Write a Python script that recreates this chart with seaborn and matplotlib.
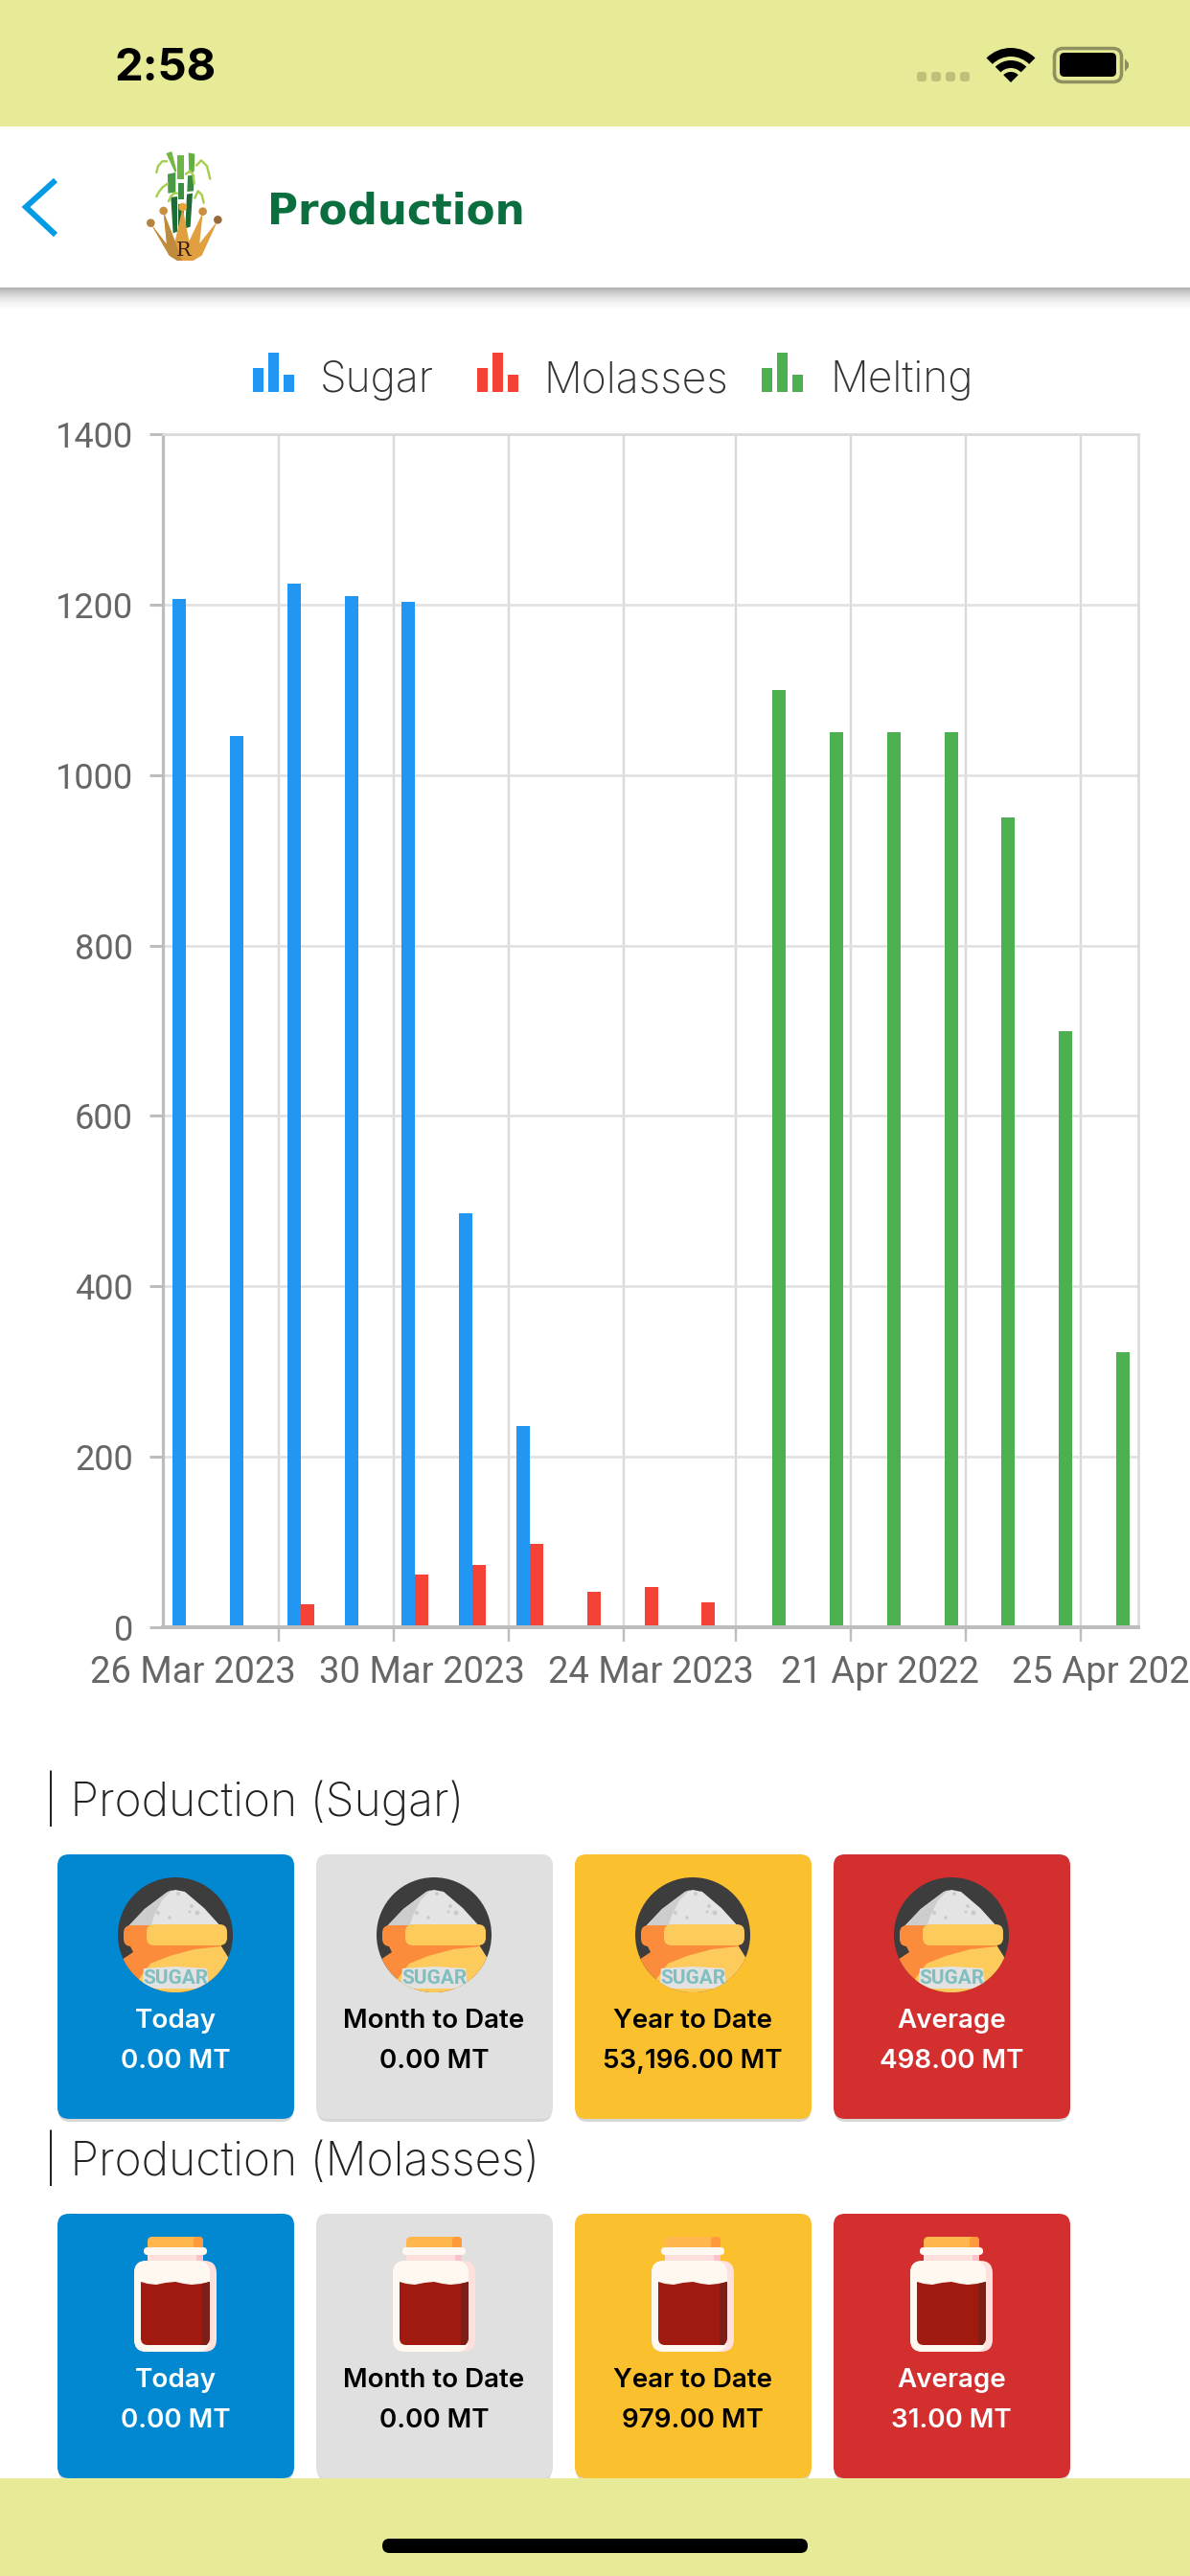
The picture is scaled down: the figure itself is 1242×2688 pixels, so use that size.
import matplotlib
matplotlib.use("Agg")
import matplotlib.pyplot as plt
from matplotlib.patches import FancyBboxPatch, Rectangle, Circle, Polygon, Wedge
from matplotlib.transforms import ScaledTranslation
import pandas as pd
import seaborn as sns

# ---- data -------------------------------------------------------------
days = ["26 Mar 2023", "27 Mar 2023", "28 Mar 2023", "29 Mar 2023", "30 Mar 2023",
        "31 Mar 2023", "01 Apr 2023", "23 Mar 2023", "24 Mar 2023", "25 Mar 2023",
        "19 Apr 2022", "20 Apr 2022", "21 Apr 2022", "22 Apr 2022", "23 Apr 2022",
        "24 Apr 2022", "25 Apr 2022"]
sugar = [1207, 1046, 1225, 1210, 1203, 486, 236, None, None, None,
         None, None, None, None, None, None, None]
molasses = [None, None, 27, None, 62, 73, 98, 42, 47, 29,
            None, None, None, None, None, None, None]
melting = [None, None, None, None, None, None, None, None, None, None,
           1100, 1050, 1050, 1050, 950, 700, 323]
series_names = ["Sugar", "Molasses", "Melting"]
series_colors = ["#2196F3", "#F44336", "#4CAF50"]
y_ticks = [0, 200, 400, 600, 800, 1000, 1200, 1400]
labelled_days = ["26 Mar 2023", "30 Mar 2023", "24 Mar 2023", "21 Apr 2022", "25 Apr 2022"]
x_tick_labels = ["26 Mar 2023", "30 Mar 2023", "24 Mar 2023", "21 Apr 2022", "25 Apr 202"]
grid_slots = [1.5, 3.51, 5.52, 7.52, 9.48, 11.49, 13.49, 15.5]

card_titles = ["Today", "Month to Date", "Year to Date", "Average"]
sugar_totals = ["0.00 MT", "0.00 MT", "53,196.00 MT", "498.00 MT"]
molasses_totals = ["0.00 MT", "0.00 MT", "979.00 MT", "31.00 MT"]
card_colors = ["#0288D1", "#E0E0E0", "#FBC02D", "#D32F2F"]
card_inks = ["white", "black", "black", "white"]

# ---- figure -----------------------------------------------------------
sns.set_theme(style="white", rc={"font.family": "Inter"})
W, H = 1242, 2688
PX = 0.72  # points per pixel at 100 dpi
fig = plt.figure(figsize=(W / 100, H / 100), dpi=100, facecolor="white")

ui = fig.add_axes([0, 0, 1, 1], zorder=1)
ui.set_xlim(0, W)
ui.set_ylim(H, 0)
ui.axis("off")

BAND = "#E7EB97"
ui.add_patch(Rectangle((0, 0), W, 132, fc=BAND, ec="none"))
for i in range(26):
    ui.add_patch(Rectangle((0, 300 + i), W, 1, fc="black", ec="none",
                           alpha=0.30 * (1 - i / 26) ** 2))

# status bar
ui.text(120, 72, "2:58", fontsize=34, fontweight="bold", color="black",
        family="Inter", va="center", ha="left")
for x0 in (957, 972, 987, 1002):
    ui.add_patch(FancyBboxPatch((x0, 75), 10, 10, boxstyle="round,pad=0,rounding_size=3",
                                fc="#BFC07A", ec="none"))
ui.add_patch(Wedge((1055, 86), 36, 225, 315, width=9, fc="black", ec="none"))
ui.add_patch(Wedge((1055, 86), 23, 225, 315, width=8, fc="black", ec="none"))
ui.add_patch(Wedge((1055, 86), 11, 225, 315, fc="black", ec="none"))
ui.add_patch(FancyBboxPatch((1100.5, 50.5), 70, 35, boxstyle="round,pad=0,rounding_size=9",
                            fc="none", ec="#8F9060", lw=3.5 * PX))
ui.add_patch(FancyBboxPatch((1106, 55), 59, 25, boxstyle="round,pad=0,rounding_size=5",
                            fc="black", ec="none"))
ui.add_patch(Polygon([(1174, 61), (1178, 66), (1178, 70), (1174, 75)], fc="#8F9060", ec="none"))

# header
ui.plot([58, 27, 58], [188, 216, 245], color="#039BE5", lw=6 * PX, solid_joinstyle="miter",
        solid_capstyle="butt")
ui.text(279, 221, "Production", fontsize=31.5, fontweight="bold", color="#0B6E3E",
        family="DejaVu Sans", va="center", ha="left")


# logo (zoom-crop coordinates divided back to pixels)
def lx(v):
    return 140 + v / 3


def ly(v):
    return 150 + v / 3


for xs, ys, col in [
    ((100, 118, 133, 128), (30, 24, 85, 90), "#73B843"),
    ((105, 130, 130, 106), (95, 90, 152, 155), "#4A9A45"),
    ((115, 135, 135, 122), (168, 165, 275, 280), "#1F6B35"),
    ((136, 155, 155, 136), (37, 37, 110, 110), "#6DB544"),
    ((137, 157, 157, 137), (122, 122, 175, 175), "#3E8F42"),
    ((138, 156, 156, 138), (188, 188, 260, 260), "#1F6B35"),
    ((170, 190, 188, 172), (28, 32, 88, 92), "#63AE42"),
    ((168, 188, 186, 166), (100, 98, 148, 150), "#3A8A40"),
    ((165, 183, 176, 160), (158, 155, 260, 265), "#1F6B35"),
]:
    ui.add_patch(Polygon([(lx(a), ly(b)) for a, b in zip(xs, ys)], fc=col, ec="none"))
for xs, ys in [
    ((70, 75, 88, 102), (90, 70, 55, 55)),
    ((70, 78, 90, 105), (165, 150, 135, 125)),
    ((108, 115, 125, 135), (180, 165, 155, 155)),
    ((195, 210, 228, 238), (68, 52, 70, 110)),
    ((190, 200, 212, 218), (170, 148, 160, 185)),
    ((162, 175, 185, 188), (95, 85, 98, 125)),
]:
    ui.plot([lx(a) for a in xs], [ly(b) for b in ys], color="#A6CE4E", lw=2.4 * PX)
ui.add_patch(Polygon([(lx(a), ly(b)) for a, b in [
    (52, 250), (110, 350), (135, 366), (185, 366), (212, 350), (262, 240),
    (205, 312), (215, 215), (172, 305), (152, 200), (128, 305), (92, 212), (102, 315)]],
    fc="#E0A040", ec="none"))
ui.add_patch(Polygon([(lx(a), ly(b)) for a, b in [
    (52, 250), (110, 350), (135, 366), (150, 366), (128, 305), (92, 212), (102, 315)]],
    fc="#C08A3C", ec="none"))
for a, b, r, c in [(52, 248, 4.3, "#B5823F"), (92, 210, 4.3, "#C9903F"), (152, 198, 4.3, "#EBA33B"),
                   (215, 212, 4.3, "#C9903F"), (262, 238, 4.3, "#96683A")]:
    ui.add_patch(Circle((lx(a), ly(b)), r, fc=c, ec="none"))
ui.text(lx(155), ly(335), "R", family="DejaVu Serif", fontsize=15,
        color="#3B2014", ha="center", va="center")

# legend, hand placed like the app's own
legend_x = [264, 498, 795]
legend_text_x = [334, 567, 866]
for name, col, x0, tx in zip(series_names, series_colors, legend_x, legend_text_x):
    for dx, top in zip((0, 16, 32), (384, 368, 391)):
        ui.add_patch(Rectangle((x0 + dx, top), 11, 409 - top, fc=col, ec="none"))
    ui.text(tx, 397, name, fontsize=32, fontweight="light", color="#333333", family="Inter",
            va="center", ha="left")


def round_box(x, y, w, h, r, **kw):
    box = FancyBboxPatch((x, y), w, h, boxstyle=f"round,pad=0,rounding_size={r}", **kw)
    ui.add_patch(box)
    return box


def sugar_icon(cx, cy):
    clip = Circle((cx, cy), 60, fc="#3D3D3D", ec="none")
    ui.add_patch(clip)

    def P(pts, col):
        p = Polygon([(cx + a, cy + b) for a, b in pts], fc=col, ec="none", closed=True)
        ui.add_patch(p)
        p.set_clip_path(clip)

    P([(-50, -8), (-32, -27), (-8, -45), (0, -47), (10, -45), (30, -28), (50, -6), (50, 5), (-50, 5)],
      "#E4E4E4")
    P([(-50, -8), (-32, -27), (-8, -45), (-3, -47), (-14, -36), (-22, -20), (-26, -8), (-26, 5), (-50, 5)],
      "#CDCDCD")
    for a, b, r in [(3, -43, 1.9), (17, -30, 1.9), (23, -23, 2.5), (15, -24, 1.5), (-6, -18, 1.8),
                    (-18, -23, 2), (-23, -26, 1.5), (-26, -21, 1.3)]:
        ui.add_patch(Circle((cx + a, cy + b), r, fc="#CACACA", ec="none"))
    P([(-48, 10), (-44, 18), (-59, 28), (-60, 62), (60, 62), (60, 28), (48, 18), (48, 10)], "#FB8C3C")
    round_box(cx - 54, cy - 10, 80, 22, 8, fc="#FB8C3C", ec="none")
    P([(-42, 62), (-38, 46), (-26, 30), (-6, 22), (20, 15), (48, 12), (58, 28), (60, 62)], "#FCCB5C")
    round_box(cx - 30, cy - 11, 84, 22, 8, fc="#FCCB5C", ec="none")
    p = Polygon([(cx + a, cy + b) for a, b in [(-33, 35), (0, 33), (33, 35), (35, 56), (-35, 56)]],
                fc="#E2E2E2", ec="none")
    ui.add_patch(p)
    p.set_clip_path(clip)
    ui.text(cx, cy + 45, "SUGAR", fontsize=15, fontweight="bold", color="#7FBFC0",
            family="Roboto", ha="center", va="center")


def jar_icon(cx, top):
    def P(pts, col):
        ui.add_patch(Polygon([(cx + a, top + b) for a, b in pts], fc=col, ec="none"))

    round_box(cx - 29, top, 58, 14, 5, fc="#FFB74D", ec="none")
    round_box(cx + 19, top, 10, 14, 4, fc="#FF9A3C", ec="none")
    ui.add_patch(Rectangle((cx - 29, top + 18), 58, 9, fc="#FFE0DC", ec="none"))
    ui.add_patch(Rectangle((cx + 22, top + 18), 7, 9, fc="#FFC0CB", ec="none"))
    round_box(cx - 33, top + 11, 66, 8, 4, fc="#FFF8F0", ec="none")
    round_box(cx - 43, top + 25, 86, 95, 13, fc="#FFE0DC", ec="none")
    round_box(cx - 43, top + 25, 79, 95, 13, fc="#FFF8F0", ec="none")
    round_box(cx - 36, top + 50, 72, 63, 7, fc="#A01A10", ec="none")
    P([(-36, 47), (-29, 49), (-20, 50), (-10, 48), (0, 47), (9, 49), (17, 50), (27, 49), (36, 47),
       (36, 58), (-36, 58)], "#A01A10")
    P([(28, 49), (36, 47), (36, 106), (33, 113), (28, 113)], "#7A2018")


def card_row(top, totals, icon):
    for k in range(4):
        x = 60 + 270 * k
        cx = x + 123
        round_box(x + 1, top + 3, 245, 276, 12, fc="#000000", ec="none", alpha=0.16)
        round_box(x, top, 247, 276, 12, fc=card_colors[k], ec="none")
        icon(cx)
        ui.text(cx, top + 174, card_titles[k], fontsize=20, fontweight="semibold", color=card_inks[k],
                family="Inter", ha="center", va="center")
        ui.text(cx, top + 216, totals[k], fontsize=20, fontweight="semibold", color=card_inks[k],
                family="Inter", ha="center", va="center")


ui.text(46, 1877, "| Production (Sugar)", fontsize=34.5, fontweight="light", color="#222222",
        family="Inter", ha="left", va="center")
ui.text(46, 2252, "| Production (Molasses)", fontsize=34.5, fontweight="light", color="#222222",
        family="Inter", ha="left", va="center")
card_row(1935, sugar_totals, lambda cx: sugar_icon(cx, 2019))
card_row(2310, molasses_totals, lambda cx: jar_icon(cx, 2334))

# bottom band
ui.add_patch(Rectangle((0, 2586), W, 102, fc=BAND, ec="none", zorder=5))
ui.add_patch(FancyBboxPatch((399, 2649), 444, 15, boxstyle="round,pad=0,rounding_size=7.5",
                            fc="black", ec="none", zorder=6))

# ---- chart ------------------------------------------------------------
ax = fig.add_axes([170 / W, 1 - 1698 / H, 1018 / W, 1245 / H], zorder=2)
ax.patch.set_alpha(0)
frame = pd.DataFrame({
    "day": days * 3,
    "value": sugar + molasses + melting,
    "series": [n for n in series_names for _ in days],
})
frame["value"] = pd.to_numeric(frame["value"])
sns.barplot(data=frame, x="day", y="value", hue="series", order=days, hue_order=series_names,
            palette=series_colors, width=0.70, gap=0, dodge=True, saturation=1, linewidth=0,
            legend=False, errorbar=None, ax=ax)
ax.set_xlim(-0.52, 16.50)
ax.set_ylim(0, 1400)
ax.set_xlabel("")
ax.set_ylabel("")
ax.set_axisbelow(True)

ax.set_yticks(y_ticks)
ax.set_xticks([days.index(d) for d in labelled_days])
ax.set_xticklabels(x_tick_labels)
ax.set_xticks(grid_slots, minor=True)
ax.grid(True, axis="y", which="major", color="#E0E0E0", lw=2.6 * PX)
ax.grid(True, axis="x", which="minor", color="#DADADA", lw=2.4 * PX)
ax.grid(False, axis="x", which="major")
ax.tick_params(axis="y", which="major", length=14 * PX, width=3 * PX, color="#BDBDBD",
               labelcolor="#666666", labelsize=26, pad=17 * PX, left=True)
ax.tick_params(axis="x", which="major", labelcolor="#666666", labelsize=27.5, pad=14 * PX,
               length=15 * PX, width=0, bottom=True)
ax.tick_params(axis="x", which="minor", length=15 * PX, width=2.4 * PX, color="#BDBDBD", bottom=True)
for lab in ax.get_xticklabels() + ax.get_yticklabels():
    lab.set_family("Roboto")
# the app lets the last date run off the screen edge: pin what is visible to that edge
last = ax.get_xticklabels()[-1]
last.set_ha("right")
last.set_transform(last.get_transform() + ScaledTranslation(0.83, 0, fig.dpi_scale_trans))
for side, col, w in [("left", "#BDBDBD", 3.2), ("bottom", "#BDBDBD", 4.0),
                     ("top", "#DADADA", 2.6), ("right", "#DADADA", 2.6)]:
    ax.spines[side].set_visible(True)
    ax.spines[side].set_color(col)
    ax.spines[side].set_linewidth(w * PX)

fig.savefig("out.png", dpi=100)
